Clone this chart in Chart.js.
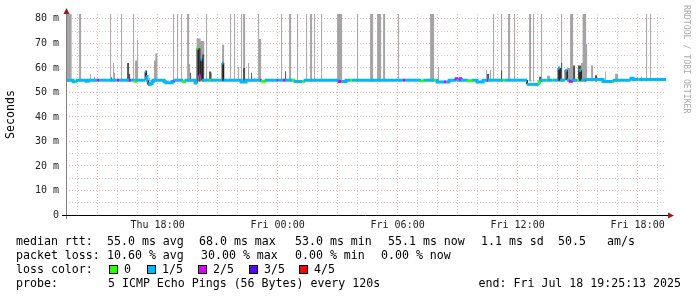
<!DOCTYPE html>
<html>
<head>
<meta charset="utf-8">
<script src="https://cdn.jsdelivr.net/npm/chart.js@4.4.1/dist/chart.umd.min.js"></script>
<style>
  body { margin: 0; background: #fff; }
  #wrap { position: relative; width: 697px; height: 297px; overflow: hidden; font-family: "DejaVu Sans Mono", monospace; }
  #c { position: absolute; left: 0; top: 0; }
  .t { position: absolute; white-space: pre; font-size: 11.6px; line-height: 14px; color: #000; }
  .sw { position: absolute; top: 265px; width: 9px; height: 9px; box-sizing: border-box; border: 1px solid #000; }
  #credit { position: absolute; left: 682px; top: 5px; writing-mode: vertical-rl; font-size: 8.2px; line-height: 9px; color: #aaa; white-space: pre; }
</style>
</head>
<body>
<div id="wrap">
  <canvas id="c" width="697" height="297"></canvas>
  <div id="credit">RRDTOOL / TOBI OETIKER</div>

  <div class="t" style="left:16px;top:234px">median rtt:</div>
  <div class="t" style="left:107px;top:234px">55.0 ms avg</div>
  <div class="t" style="left:199px;top:234px">68.0 ms max</div>
  <div class="t" style="left:295px;top:234px">53.0 ms min</div>
  <div class="t" style="left:388px;top:234px">55.1 ms now</div>
  <div class="t" style="left:481px;top:234px">1.1 ms sd</div>
  <div class="t" style="left:558px;top:234px">50.5</div>
  <div class="t" style="left:607px;top:234px">am/s</div>

  <div class="t" style="left:16px;top:248px">packet loss:</div>
  <div class="t" style="left:107px;top:248px">10.60 % avg</div>
  <div class="t" style="left:201px;top:248px">30.00 % max</div>
  <div class="t" style="left:295px;top:248px">0.00 % min</div>
  <div class="t" style="left:381px;top:248px">0.00 % now</div>

  <div class="t" style="left:16px;top:262px">loss color:</div>
  <div id="lossRow"></div>

  <div class="t" style="left:16px;top:276px">probe:</div>
  <div class="t" style="left:108px;top:276px">5 ICMP Echo Pings (56 Bytes) every 120s</div>
  <div class="t" style="right:16px;top:276px">end: Fri Jul 18 19:25:13 2025</div>
</div>
<script>
// x is hours since Thu 00:00, window is the 30 h ending Fri 19:25:13
const xMin = 13.42;
const xMax = 43.42;
const xTickHours = [18, 24, 30, 36, 42];
const xTickLabels = ["Thu 18:00", "Fri 00:00", "Fri 06:00", "Fri 12:00", "Fri 18:00"];
const yTickValues = [0, 10, 20, 30, 40, 50, 60, 70, 80];
const yTickLabels = ["0", "10 m", "20 m", "30 m", "40 m", "50 m", "60 m", "70 m", "80 m"];

const lossLabels = ["0", "1/5", "2/5", "3/5", "4/5"];
const lossColors = ["#26ff00", "#00b8ff", "#dd00ff", "#5e00ff", "#ff0000"];

// median rtt (ms) as runs: each run lasts until the next start
const medStart = [13.42, 13.775, 13.875, 13.975, 14.425, 14.525, 14.975, 15.075, 15.975, 16.075,
  16.575, 16.675, 16.875, 16.975, 17.375, 17.425, 17.475, 17.525, 17.625, 17.725,
  17.775, 18.325, 18.425, 18.725, 18.825, 18.875, 19.275, 19.425, 19.875, 19.975,
  20.05, 20.15, 20.225, 20.575, 20.675, 21.225, 21.3, 22.175, 22.425, 23.125,
  23.175, 23.225, 23.425, 23.975, 24.025, 24.275, 24.375, 24.725, 24.875, 25.225,
  25.375, 27.075, 27.175, 27.425, 27.625, 27.725, 30.275, 30.375, 31.175, 31.375,
  31.825, 31.925, 31.975, 32.325, 32.425, 32.575, 32.925, 33.025, 33.125, 33.225,
  33.525, 33.775, 33.975, 34.275, 34.475, 34.525, 35.275, 35.375, 36.475, 37.075,
  37.175, 37.425, 37.475, 37.725, 37.775, 38.025, 38.125, 38.375, 38.475, 38.625,
  38.775, 38.975, 39.075, 39.175, 39.375, 39.425, 40.275, 40.725, 40.825, 41.625,
  41.675, 41.775, 42.025, 42.075];
const medValue = [55, 54.4, 54.4, 55, 54.6, 55, 55, 55, 55, 55,
  55, 55, 54.6, 55, 58.5, 56.5, 55, 53.2, 53.6, 54.5,
  55, 54.4, 54.0, 54.5, 54.6, 55, 54.5, 55, 53.8, 68,
  57, 63.4, 55, 55, 55, 62, 55, 54.3, 55, 55,
  55, 54.6, 55, 55, 55, 55, 55, 55, 54.5, 54.5,
  55, 54.5, 54.5, 55, 55, 55, 55, 55, 54.8, 55,
  55, 55, 54.3, 54.3, 54.3, 55, 55.6, 55, 55.6, 55,
  54.8, 55, 54.3, 55, 55, 55, 55, 55, 53.3, 54.4,
  55, 55, 55, 55, 55, 60, 55, 59, 55, 54.6,
  55, 55, 59, 55, 55, 55.3, 54.5, 54.5, 55, 55,
  55.8, 55.3, 55.3, 55.3];
const medLoss = [1, 1, 0, 1, 1, 1, 2, 1, 2, 1,
  2, 1, 0, 1, 1, 1, 1, 1, 1, 1,
  1, 1, 1, 1, 2, 1, 0, 1, 1, 0,
  2, 1, 1, 0, 1, 1, 1, 1, 1, 2,
  1, 0, 1, 2, 1, 2, 1, 0, 1, 0,
  1, 2, 1, 1, 0, 1, 2, 1, 0, 1,
  0, 1, 1, 2, 1, 1, 2, 1, 2, 1,
  0, 1, 1, 1, 2, 1, 0, 1, 1, 0,
  1, 0, 1, 0, 1, 1, 1, 1, 1, 2,
  1, 0, 1, 1, 2, 1, 1, 0, 1, 0,
  1, 1, 0, 1];

// outer smoke (slowest pings), ms
const lightStart = [13.42, 14.075, 14.625, 14.825, 15.625, 15.775, 15.825, 16.175, 16.775, 16.875,
  16.975, 17.575, 17.82, 17.89, 18.775, 18.975, 19.175, 19.475, 19.575, 19.95,
  20.15, 20.425, 20.675, 21.225, 21.625, 21.825, 22.025, 22.175, 22.275, 22.525,
  22.825, 23.025, 23.075, 24.175, 24.575, 24.975, 25.425, 25.625, 25.825, 26.175,
  26.975, 27.975, 28.625, 28.975, 29.275, 30.025, 31.625, 32.025, 34.425, 34.625,
  34.775, 35.175, 35.525, 35.825, 36.575, 36.775, 37.175, 37.475, 38.175, 38.475,
  38.625, 38.775, 39.175, 39.25, 39.425, 39.675, 40.375, 40.875, 42.175, 42.425,
  42.625];
const lightEnd = [13.70, 14.175, 14.675, 14.875, 15.675, 15.825, 15.875, 16.225, 16.825, 16.975,
  17.025, 17.625, 17.89, 17.99, 18.825, 19.025, 19.225, 19.575, 19.625, 20.15,
  20.33, 20.475, 20.725, 21.325, 21.675, 21.875, 22.075, 22.225, 22.375, 22.575,
  22.875, 23.075, 23.175, 24.225, 24.675, 25.025, 25.475, 25.725, 25.875, 26.225,
  27.225, 28.025, 28.775, 29.175, 29.375, 30.075, 31.825, 32.075, 34.475, 34.675,
  34.825, 35.225, 35.625, 35.875, 36.675, 36.825, 37.225, 37.625, 38.225, 38.625,
  38.775, 38.875, 39.25, 39.425, 39.475, 39.775, 40.425, 41.025, 42.225, 42.475,
  42.675];
const lightTop = [82, 82, 57.5, 56.3, 82, 62, 58, 82, 82, 63,
  71.5, 56, 63, 66, 82, 82, 82, 82, 61.6, 72,
  71, 82, 58, 69.5, 82, 82, 60.4, 82, 82, 62,
  56, 82, 71.8, 82, 82, 82, 82, 82, 82, 82,
  82, 82, 82, 82, 82, 82, 82, 60.3, 59.2, 59.2,
  82, 82, 82, 82, 82, 82, 82, 56.8, 82, 60,
  82, 58.5, 62, 82, 69.8, 61, 58.4, 57.6, 56.5, 82,
  82];

// inner smoke, ms
const darkStart = [15.675, 16.475, 16.575, 17.425, 19.625, 20.05, 20.225, 20.575, 21.225, 22.275,
  22.675, 24.375, 33.075, 34.475, 35.175, 37.075, 38.025, 38.175, 38.775, 39.025, 39.875];
const darkEnd = [15.725, 16.575, 16.625, 17.475, 19.675, 20.15, 20.325, 20.675, 21.3, 22.375,
  22.725, 24.425, 33.175, 34.575, 35.225, 37.175, 38.125, 38.225, 38.875, 39.175, 39.975];
const darkTop = [56.2, 62, 57.5, 59, 58, 68, 65.5, 58.5, 62, 60,
  58, 58.6, 56, 57.5, 59, 56.4, 60, 62, 61, 61, 57];

const smokeBase = 54.5;

// loss legend row
const lossRow = document.getElementById("lossRow");
const swatchLeft = [109, 147, 198, 249, 299];
lossLabels.forEach((lab, i) => {
  let sw = document.createElement("div");
  sw.className = "sw";
  sw.style.left = swatchLeft[i] + "px";
  sw.style.background = lossColors[i];
  lossRow.appendChild(sw);
  let t = document.createElement("div");
  t.className = "t";
  t.style.left = swatchLeft[i] + 15 + "px";
  t.style.top = "262px";
  t.textContent = lab;
  lossRow.appendChild(t);
});

function stepPoints(starts, values, end) {
  let pts = [];
  for (let i = 0; i < starts.length; i++) {
    let e = i + 1 < starts.length ? starts[i + 1] : end;
    pts.push({ x: starts[i], y: values[i] }, { x: e, y: values[i] });
  }
  return pts;
}

function smokePoints(starts, ends, tops) {
  let pts = [{ x: xMin, y: smokeBase }];
  for (let i = 0; i < starts.length; i++) {
    pts.push({ x: starts[i], y: smokeBase }, { x: starts[i], y: tops[i] });
    pts.push({ x: ends[i], y: tops[i] }, { x: ends[i], y: smokeBase });
  }
  pts.push({ x: xMax, y: smokeBase });
  return pts;
}

let medPts = stepPoints(medStart, medValue, xMax);

// horizontal runs get the loss colour, big vertical jumps show only the thin dark line
function segColor(ctx) {
  let i = ctx.p0DataIndex;
  if (i % 2 === 0) return lossColors[medLoss[i / 2]];
  let next = (i + 1) / 2;
  if (Math.abs(medValue[next] - medValue[next - 1]) > 1.5) return "rgba(0,0,0,0)";
  return lossColors[medLoss[next]];
}

let hourTicks = [];
for (let h = Math.ceil(xMin); h <= xMax; h++) hourTicks.push({ value: h });
let fiveTicks = [];
for (let v = 0; v <= 80; v += 5) fiveTicks.push({ value: v });

const majorGrid = "rgba(230, 100, 100, 0.5)";
const minorGrid = "rgba(150, 150, 150, 0.45)";
const monoFont = "'DejaVu Sans Mono', monospace";

const axisArrows = {
  id: "axisArrows",
  afterDatasetsDraw(chart) {
    let { ctx, chartArea: a } = chart;
    ctx.save();
    ctx.lineWidth = 1;
    ctx.strokeStyle = "#808080";
    ctx.beginPath();
    ctx.moveTo(a.left + 0.5, a.bottom + 4);
    ctx.lineTo(a.left + 0.5, a.top - 2);
    ctx.stroke();
    ctx.strokeStyle = "#000";
    ctx.beginPath();
    ctx.moveTo(a.left - 4, a.bottom + 0.5);
    ctx.lineTo(a.right + 3, a.bottom + 0.5);
    ctx.stroke();
    ctx.fillStyle = "#9b1b1b";
    ctx.beginPath();
    ctx.moveTo(a.left + 0.5, a.top - 6);
    ctx.lineTo(a.left - 2.5, a.top);
    ctx.lineTo(a.left + 3.5, a.top);
    ctx.fill();
    ctx.beginPath();
    ctx.moveTo(a.right + 8, a.bottom + 0.5);
    ctx.lineTo(a.right + 2, a.bottom - 2.5);
    ctx.lineTo(a.right + 2, a.bottom + 3.5);
    ctx.fill();
    ctx.restore();
  },
};

new Chart(document.getElementById("c"), {
  type: "line",
  data: {
    datasets: [
      {
        data: medPts,
        order: 0,
        borderWidth: 3,
        borderColor: lossColors[1],
        pointRadius: 0,
        fill: false,
        segment: { borderColor: segColor },
      },
      {
        data: medPts,
        order: 1,
        borderWidth: 1,
        borderColor: "#202020",
        pointRadius: 0,
        fill: false,
      },
      {
        data: smokePoints(darkStart, darkEnd, darkTop),
        order: 2,
        borderWidth: 0,
        pointRadius: 0,
        backgroundColor: "#505050",
        fill: { value: smokeBase },
      },
      {
        data: smokePoints(lightStart, lightEnd, lightTop),
        order: 3,
        borderWidth: 0,
        pointRadius: 0,
        backgroundColor: "#a4a4a4",
        fill: { value: smokeBase },
      },
    ],
  },
  options: {
    responsive: false,
    animation: false,
    events: [],
    layout: { padding: { left: 0, right: 31, top: 14, bottom: 0 } },
    plugins: { legend: { display: false }, tooltip: { enabled: false } },
    scales: {
      x: {
        type: "linear",
        min: xMin,
        max: xMax,
        afterBuildTicks: (axis) => { axis.ticks = hourTicks.slice(); },
        afterFit: (s) => { s.height = 82; },
        ticks: {
          autoSkip: false,
          maxRotation: 0,
          padding: 4,
          color: "#222",
          font: { family: monoFont, size: 10 },
          callback: (v) => {
            let k = xTickHours.indexOf(v);
            return k >= 0 ? xTickLabels[k] : "";
          },
        },
        grid: {
          drawTicks: false,
          color: (ctx) => (ctx.tick && ctx.tick.value % 3 === 0 ? majorGrid : minorGrid),
        },
        border: { display: false, dash: [1, 2] },
      },
      y: {
        type: "linear",
        min: 0,
        max: 82,
        afterBuildTicks: (axis) => { axis.ticks = fiveTicks.slice(); },
        afterFit: (s) => { s.width = 66; },
        ticks: {
          autoSkip: false,
          padding: 7,
          color: "#222",
          font: { family: monoFont, size: 10 },
          callback: (v) => {
            let k = yTickValues.indexOf(v);
            return k >= 0 ? yTickLabels[k] : "";
          },
        },
        grid: {
          drawTicks: false,
          color: (ctx) => (ctx.tick && ctx.tick.value % 10 === 0 ? majorGrid : minorGrid),
        },
        border: { display: false, dash: [1, 2] },
        title: {
          display: true,
          text: "Seconds",
          color: "#000",
          font: { family: monoFont, size: 11.6 },
          padding: { top: 4, bottom: 0 },
        },
      },
    },
  },
  plugins: [axisArrows],
});
</script>
</body>
</html>
